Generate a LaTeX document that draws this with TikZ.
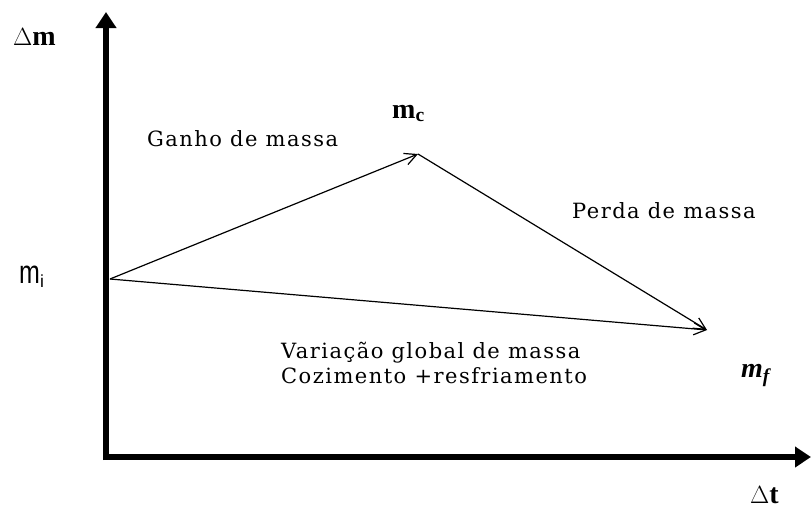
\documentclass[tikz,border=0pt]{standalone}
\usepackage{fontspec}
\setmainfont{DejaVu Serif}
\newfontfamily\txtfont[LetterSpace=7]{DejaVu Serif}
\newfontfamily\lblsans{Liberation Sans}
\newfontfamily\lblserif{Liberation Serif}
\usetikzlibrary{arrows.meta}
\tikzset{
  axis/.style={line width=6pt,-{Triangle[length=16pt,width=20pt]}},
  vec/.style={line width=1.2pt,-{Straight Barb[length=12pt,width=12pt,line width=1.2pt]}},
  lbl/.style={font=\txtfont\fontsize{21}{25}\selectfont,inner sep=0pt},
  sym/.style={inner sep=0pt,font=\lblserif\bfseries\fontsize{28}{30}\selectfont},
  pt/.style={inner sep=0pt,minimum size=0pt}
}
\begin{document}
\begin{tikzpicture}[x=1pt,y=-1pt]
\useasboundingbox (0,0) rectangle (811,509);
\coordinate (ybot) at (106,460);
\coordinate (ytop) at (106,12);
\coordinate (xbeg) at (103,457);
\coordinate (xend) at (811,457);
\draw[axis] (ybot) -- (ytop);
\draw[axis] (xbeg) -- (xend);
\node[pt] (mi) at (110,279) {};
\node[pt] (mc) at (418,154) {};
\node[pt] (mf) at (707,330) {};
\draw[vec] (mi.center) -- (mc.center);
\draw[vec] (mc.center) -- (mf.center);
\draw[vec] (mi.center) -- (mf.center);
\node[sym,anchor=base west] (dm) at (13,45) {$\Delta$m};
\node[sym,anchor=base west] (dt) at (750,503) {$\Delta$t};
\node[inner sep=0pt,anchor=base west] (milbl) at (19,283) {\lblsans\fontsize{25}{28}\selectfont\scalebox{1}[1.3]{m}\textsubscript{i}};
\node[sym,anchor=base west] (mclbl) at (392,118) {m\textsubscript{c}};
\node[sym,font=\lblserif\bfseries\itshape\fontsize{28}{30}\selectfont,anchor=base west] (mflbl) at (741,377) {m\textsubscript{f}};
\node[lbl,anchor=base west] (ganho) at (147,146) {Ganho de massa};
\node[lbl,anchor=base west] (perda) at (572,218) {Perda de massa};
\node[lbl,anchor=base west] (var) at (281,358) {Variação global de massa};
\node[lbl,anchor=base west] (coz) at (281,383) {Cozimento +resfriamento};
\end{tikzpicture}
\end{document}
